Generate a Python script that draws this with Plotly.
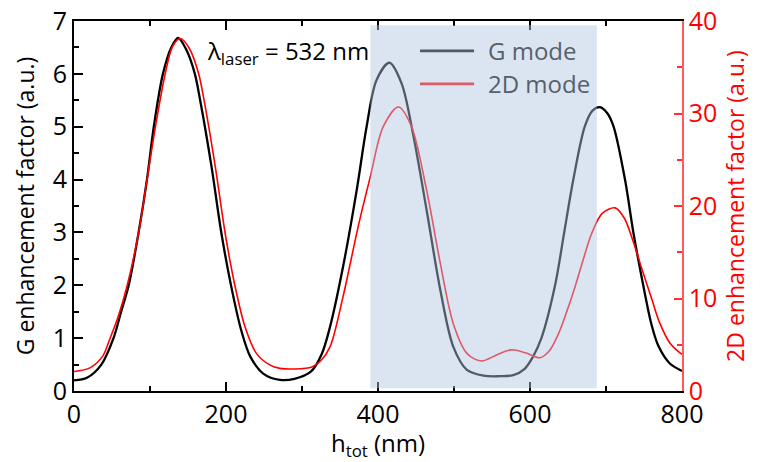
import plotly.graph_objects as go

# ---- data ----
h_G = [0, 17, 36, 52, 62, 72, 85, 96, 105, 117, 128, 137, 148, 159, 166, 181, 194, 207,
       220, 232, 249, 271, 290, 312, 326, 337, 354, 372, 385, 398, 415, 431, 446, 464,
       482, 499, 517, 539, 560, 578, 593, 604, 615, 633, 645, 657, 672, 682, 692, 702,
       710, 725, 736, 749, 760, 769, 784, 800]
G_mode = [0.20, 0.25, 0.50, 1.00, 1.50, 2.00, 3.00, 4.00, 5.00, 6.00, 6.50, 6.68, 6.45, 6.00,
          5.50, 4.24, 2.98, 1.97, 1.15, 0.65, 0.33, 0.21, 0.23, 0.37, 0.70, 1.22, 2.35, 3.80,
          5.00, 5.88, 6.21, 5.82, 4.87, 3.42, 1.91, 0.84, 0.40, 0.29, 0.28, 0.30, 0.42, 0.65,
          1.00, 2.00, 3.00, 4.00, 5.00, 5.30, 5.37, 5.25, 5.00, 4.00, 3.00, 2.00, 1.25, 0.85,
          0.52, 0.38]

h_2D = [0, 21, 38, 47, 58, 70, 85, 96, 107, 120, 130, 140, 152, 164, 171, 186, 199, 212,
        225, 240, 258, 271, 290, 313, 325, 337, 354, 374, 390, 407, 427, 444, 464, 482,
        499, 517, 536, 556, 575, 595, 613, 625, 637, 648, 659, 670, 681, 695, 712, 724,
        734, 748, 760, 770, 784, 800]
D_mode = [2.1, 2.5, 3.8, 5.6, 8.0, 11.4, 17.1, 22.8, 28.5, 34.3, 37.3, 38.1, 37.0, 34.3, 31.5,
          24.2, 17.0, 11.3, 6.95, 4.07, 2.80, 2.45, 2.38, 2.60, 3.30, 4.80, 10.2, 17.8, 23.2,
          28.6, 30.7, 28.6, 21.7, 13.8, 7.3, 4.07, 3.24, 3.90, 4.45, 4.10, 3.60, 4.30, 6.1,
          8.5, 11.2, 14.2, 17.0, 19.2, 19.8, 18.7, 16.6, 13.0, 10.0, 7.5, 5.2, 3.95]

x_ticks = [0, 200, 400, 600, 800]
yL_ticks = [0, 1, 2, 3, 4, 5, 6, 7]
yR_ticks = [0, 10, 20, 30, 40]
shade_range = [390, 688]

FONT = "Open Sans"

fig = go.Figure()
fig.add_trace(go.Scatter(x=h_G, y=G_mode, mode="lines", name="G mode",
                         line=dict(color="black", width=2.3, shape="spline", smoothing=0.9),
                         yaxis="y", showlegend=False))
fig.add_trace(go.Scatter(x=h_2D, y=D_mode, mode="lines", name="2D mode",
                         line=dict(color="#ff0000", width=1.6, shape="spline", smoothing=0.9),
                         yaxis="y2", showlegend=False))

tickfont = dict(family=FONT, size=25, color="black")

fig.update_layout(
    width=774, height=462,
    margin=dict(l=74, r=92, t=21, b=71),
    paper_bgcolor="white", plot_bgcolor="white",
    font=dict(family=FONT, color="black"),
    xaxis=dict(
        range=[0, 800], tickvals=x_ticks, ticks="inside", ticklen=9, tickwidth=2,
        tickcolor="black", showline=True, linecolor="black", linewidth=2, mirror="ticks",
        showgrid=False, zeroline=False, tickfont=tickfont,
        minor=dict(dtick=100, ticks="inside", ticklen=5, tickwidth=2, tickcolor="black"),
        title=dict(text="h<sub>tot</sub> (nm)", font=dict(family=FONT, size=24, color="black"),
                   standoff=4),
        automargin=False,
    ),
    yaxis=dict(
        range=[0, 7], tickvals=yL_ticks, ticks="inside", ticklen=9, tickwidth=2,
        tickcolor="black", showline=True, linecolor="black", linewidth=2,
        showgrid=False, zeroline=False, tickfont=tickfont,
        minor=dict(dtick=0.5, ticks="inside", ticklen=5, tickwidth=2, tickcolor="black"),
        title=dict(text="G enhancement factor (a.u.)",
                   font=dict(family=FONT, size=23, color="black"), standoff=12),
        automargin=False,
    ),
    yaxis2=dict(
        range=[0, 40], tickvals=yR_ticks, overlaying="y", side="right",
        ticks="inside", ticklen=8, tickwidth=1.5, tickcolor="#ff3030",
        showline=True, linecolor="#ff5a5a", linewidth=1.5,
        showgrid=False, zeroline=False,
        tickfont=dict(family=FONT, size=25, color="#ff0000"),
        minor=dict(dtick=5, ticks="inside", ticklen=5, tickwidth=1.5, tickcolor="#ff3030"),
        title=dict(text="2D enhancement factor (a.u.)",
                   font=dict(family=FONT, size=23, color="#ff0000"), standoff=12),
        automargin=False,
    ),
)

# legend (manual, drawn under the shaded band)
leg_y = [0.919, 0.830]
fig.add_shape(type="line", xref="paper", yref="paper", x0=0.569, x1=0.658, y0=leg_y[0], y1=leg_y[0],
              line=dict(color="black", width=2.7), layer="above")
fig.add_shape(type="line", xref="paper", yref="paper", x0=0.569, x1=0.658, y0=leg_y[1], y1=leg_y[1],
              line=dict(color="#ff0000", width=2.7), layer="above")

# shaded band (semi-transparent, on top)
fig.add_shape(type="rect", xref="x", yref="y", x0=shade_range[0], x1=shade_range[1], y0=0.05, y1=6.92,
              fillcolor="rgb(177,199,225)", opacity=0.46, line=dict(width=0), layer="above")

for txt, yy in zip(["G mode", "2D mode"], leg_y):
    fig.add_annotation(text=txt, xref="paper", yref="paper", x=0.678, y=yy, xanchor="left",
                       yanchor="middle", showarrow=False,
                       font=dict(family=FONT, size=24, color="#56606c"))

fig.add_annotation(text="λ<sub>laser</sub> = 532 nm", xref="x", yref="y", x=172, y=6.42,
                   xanchor="left", yanchor="middle", showarrow=False,
                   font=dict(family=FONT, size=24, color="black"))

fig.write_html("out.html", post_script="document.body.style.margin='0';",
               config={"displayModeBar": False})
